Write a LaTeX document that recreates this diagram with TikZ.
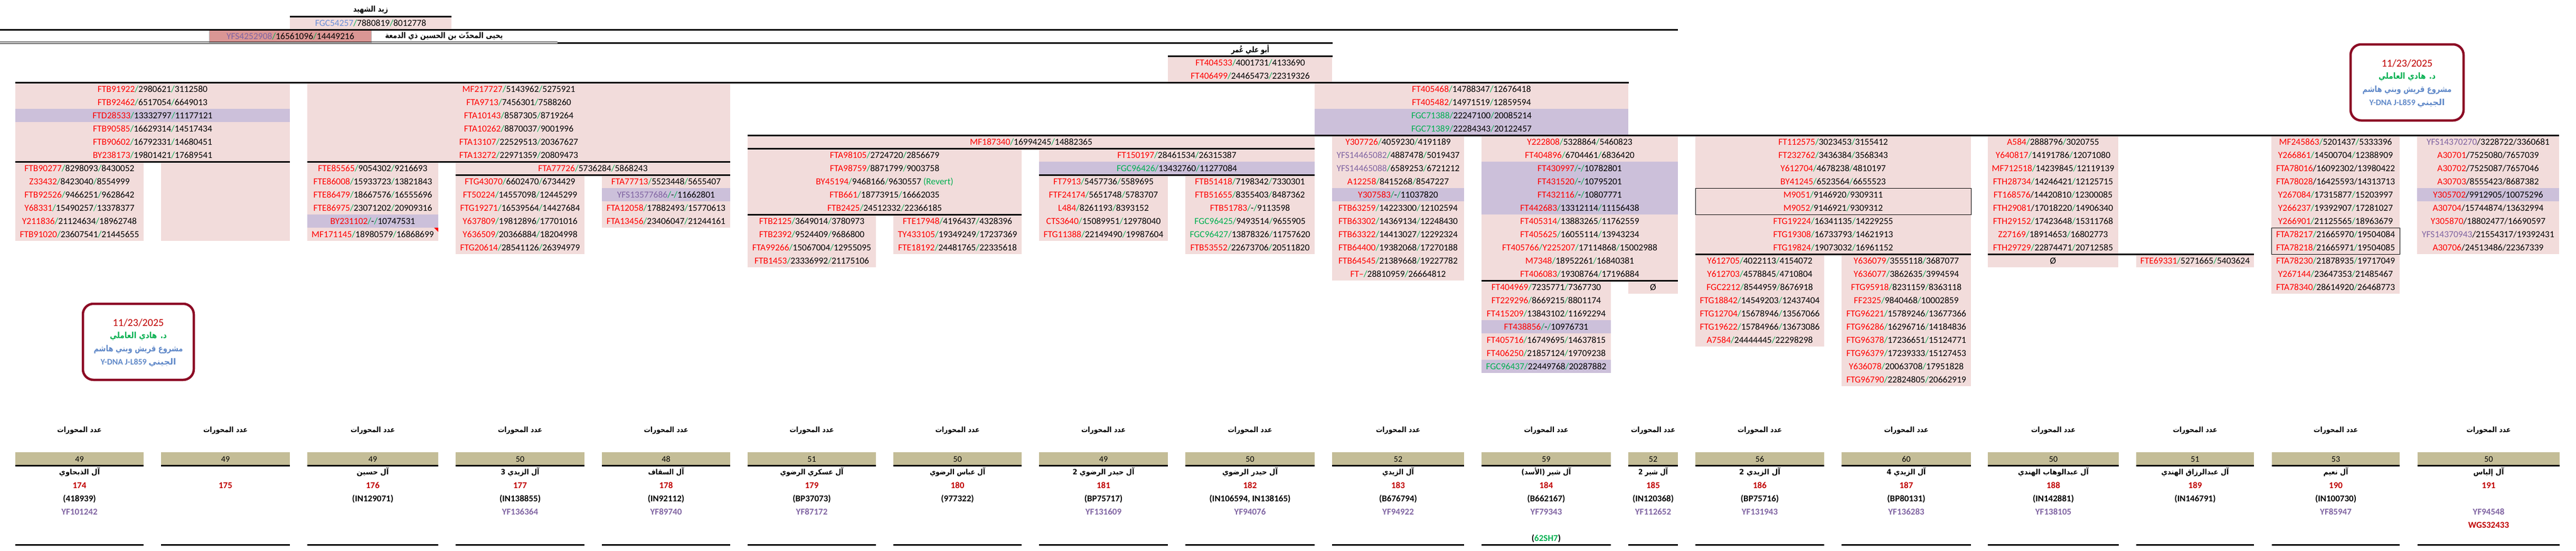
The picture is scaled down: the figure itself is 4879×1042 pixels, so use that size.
\documentclass[tikz,border=0pt]{standalone}
\usepackage{fontspec}
\usepackage{graphicx}
\setmainfont{Carlito}
\newfontfamily\arabicfont[Script=Arabic]{DejaVu Sans}
\TeXXeTstate=1
\definecolor{pinkc}{HTML}{F2DCDB}
\definecolor{purc}{HTML}{CCC0DA}
\definecolor{dpink}{HTML}{DA9694}
\definecolor{grayc}{HTML}{C4BD97}
\definecolor{rd}{HTML}{FF0000}
\definecolor{gn}{HTML}{00B050}
\definecolor{pu}{HTML}{8064A2}
\definecolor{bl}{HTML}{6A8ED8}
\definecolor{dred}{HTML}{C00000}
\definecolor{boxred}{HTML}{8C0A24}
\definecolor{dblue}{HTML}{5F88C8}
\newcommand\gs{\textcolor{gn}{/}}
\newcommand\Rr[3]{\textcolor{rd}{#1}\gs#2\gs#3}
\newcommand\Pp[3]{\textcolor{pu}{#1}\gs#2\gs#3}
\newcommand\Gg[3]{\textcolor{gn}{#1}\gs#2\gs#3}
\newcommand\Tx[3]{\node[rt] at (#1,{24+25*(#2)}) {#3};}
\newcommand\Bx[5][pinkc]{\fill[#1] (#2,{6+25*(#4)}) rectangle (#3,{6+25*(#5)});}
\newcommand\Hl[3]{\draw[thk] (#1,#3) -- (#2,#3);}
\newcommand\AN[2]{\resizebox{#1pt}{\height}{\arabicfont\bfseries #2}}
\newcommand\Lbl{\AN{84}{\beginR عدد المحورات\endR}}
\newcommand\Col[7]{%
  \fill[grayc] (#1,856) rectangle (#2,881);
  \draw[thk] (#1,881) -- (#2,881);
  \draw[thk] (#1,1031) -- (#2,1031);
  \node[bnm] at ({(#1+#2)/2},815) {\Lbl};
  \node[gnum] at ({(#1+#2)/2},874.5) {#3};
  \node[bnm] at ({(#1+#2)/2},893.5) {#4};
  \node[bnum,text=dred] at ({(#1+#2)/2},924.5) {#5};
  \node[bnum] at ({(#1+#2)/2},949.5) {#6};
  \node[bnum,text=pu] at ({(#1+#2)/2},974.5) {#7};
}
\newcommand\DBox[4]{%
  \draw[boxred,fill=white,line width=4.5pt,rounded corners=20pt] (#1,#2) rectangle ({#1+#3},{#2+#4});
  \node[inner sep=0,font=\fontsize{20}{24}\selectfont,text=dred] at ({#1+#3/2},{#2+36}) {11/23/2025};
  \node[inner sep=0,font=\fontsize{16}{20}\selectfont,text=gn] at ({#1+#3/2},{#2+61}) {\resizebox{108pt}{\height}{\arabicfont\bfseries\beginR د. هادي العاملي\endR}};
  \node[inner sep=0,font=\fontsize{16}{20}\selectfont,text=dblue] at ({#1+#3/2},{#2+86}) {\resizebox{169pt}{\height}{\arabicfont\bfseries\beginR مشروع قريش وبني هاشم\endR}};
  \node[inner sep=0,font=\fontsize{16}{20}\selectfont,text=dblue] at ({#1+#3/2},{#2+111}) {\resizebox{143pt}{\height}{\bfseries Y-DNA J-L859 {\arabicfont\beginR الجيني\endR}}};
}
\tikzset{
  thk/.style={line width=3pt},
  rt/.style={anchor=base,inner sep=0,font=\fontsize{17.5}{20}\selectfont},
  gnum/.style={anchor=base,inner sep=0,font=\fontsize{16}{20}\selectfont},
  bnum/.style={anchor=base,inner sep=0,font=\fontsize{17}{20}\selectfont\bfseries},
  bnm/.style={anchor=center,inner sep=0,font=\fontsize{14}{16}\selectfont},
  al/.style={anchor=center,inner sep=0,font=\fontsize{15}{18}\selectfont\arabicfont\bfseries}
}
\begin{document}
\begin{tikzpicture}[x=1pt,y=-1pt]
\useasboundingbox (0,0) rectangle (4879,1042);
% ---------- top header ----------
\node[al] (zaid) at (702,19) {\resizebox{66pt}{\height}{\beginR زيد الشهيد\endR}};
\Bx{549}{855}{1}{2}
\Tx{702}{1}{\textcolor{bl}{FGC54257}\gs7880819\gs8012778}
\fill[dpink] (396,57) rectangle (703,80);
\draw[gray!60,line width=1pt] (396,57) rectangle (703,80);
\Tx{550}{2}{\Pp{YFS4252908}{16561096}{14449216}}
\node[al] (yahya) at (841,68.5) {\resizebox{223pt}{\height}{\beginR يحيى المحدّث بن الحسين ذي الدمعة\endR}};
\draw[line width=1pt] (0,79.5) -- (1056,79.5);
\draw[line width=1pt] (0,82.5) -- (1056,82.5);
\node[al] (omar) at (2368,93.5) {\resizebox{72pt}{\height}{\beginR أبو علي عُمر\endR}};
\Bx{2212}{2523}{4}{6}
\Tx{2368}{4}{\Rr{FT404533}{4001731}{4133690}}
\Tx{2368}{5}{\Rr{FT406499}{24465473}{22319326}}
% ---------- fills ----------
\Bx{29}{549}{6}{12}\Bx[purc]{29}{549}{8}{9}
\Bx{29}{272}{12}{18}
\Bx{305}{549}{12}{18}
\Bx{582}{1383}{6}{12}
\Bx{582}{830}{12}{18}\Bx[purc]{582}{830}{16}{17}
\Bx{863}{1383}{12}{13}
\Bx{863}{1107}{13}{19}
\Bx{1140}{1383}{13}{17}\Bx[purc]{1140}{1383}{14}{15}
\Bx{1416}{2490}{10}{11}
\Bx{1416}{1935}{11}{16}
\Bx{1416}{1659}{16}{20}
\Bx{1692}{1935}{16}{19}
\Bx{1968}{2490}{11}{12}\Bx[purc]{1968}{2490}{12}{13}
\Bx{1968}{2212}{13}{18}
\Bx{2245}{2490}{13}{19}
\Bx{2490}{3084}{6}{10}\Bx[purc]{2490}{3084}{8}{10}
\Bx{2523}{2773}{10}{21}\Bx[purc]{2523}{2773}{14}{15}
\Bx{2806}{3178}{10}{21}\Bx[purc]{2806}{3178}{12}{16}
\Bx{2806}{3051}{21}{28}\Bx[purc]{2806}{3051}{24}{25}\Bx[purc]{2806}{3051}{27}{28}
\Bx{3084}{3178}{21}{22}
\Bx{3211}{3733}{10}{19}
\Bx{3211}{3455}{19}{26}
\Bx{3488}{3733}{19}{29}
\Bx{3765}{4012}{10}{19}
\Bx{3765}{4012}{19}{20}
\Bx{4046}{4269}{19}{20}
\Bx{4302}{4545}{10}{22}
\Bx{4578}{4847}{10}{19}\Bx[purc]{4578}{4847}{14}{15}
% ---------- lines ----------
\Hl{549}{855}{31}
\Hl{0}{3178}{56}
\Hl{1056}{2524}{81}
\Hl{2212}{2524}{106}
\Hl{29}{3085}{156}
\Hl{1416}{4847}{256}
\Hl{1416}{2490}{281}
\Hl{29}{549}{306}\Hl{582}{1383}{306}
\Hl{863}{1383}{331}\Hl{1968}{2490}{331}
\Hl{1416}{1935}{406}
\Hl{3211}{3733}{481}\Hl{3765}{4269}{481}
\Hl{2806}{3178}{531}
\draw[line width=1pt] (3211,356) rectangle (3733,406);
\draw[line width=1pt] (4302,431) rectangle (4545,481);
\fill[rd] (822,431) -- (830,431) -- (830,439) -- cycle;
% ---------- texts ----------
\Tx{289}{6}{\Rr{FTB91922}{2980621}{3112580}}
\Tx{289}{7}{\Rr{FTB92462}{6517054}{6649013}}
\Tx{289}{8}{\Rr{FTD28533}{13332797}{11177121}}
\Tx{289}{9}{\Rr{FTB90585}{16629314}{14517434}}
\Tx{289}{10}{\Rr{FTB90602}{16792331}{14680451}}
\Tx{289}{11}{\Rr{BY238173}{19801421}{17689541}}
\Tx{150.5}{12}{\Rr{FTB90277}{8298093}{8430052}}
\Tx{150.5}{13}{\Rr{Z33432}{8423040}{8554999}}
\Tx{150.5}{14}{\Rr{FTB92526}{9466251}{9628642}}
\Tx{150.5}{15}{\Rr{Y68331}{15490257}{13378377}}
\Tx{150.5}{16}{\Rr{Y211836}{21124634}{18962748}}
\Tx{150.5}{17}{\Rr{FTB91020}{23607541}{21445655}}
\Tx{982.5}{6}{\Rr{MF217727}{5143962}{5275921}}
\Tx{982.5}{7}{\Rr{FTA9713}{7456301}{7588260}}
\Tx{982.5}{8}{\Rr{FTA10143}{8587305}{8719264}}
\Tx{982.5}{9}{\Rr{FTA10262}{8870037}{9001996}}
\Tx{982.5}{10}{\Rr{FTA13107}{22529513}{20367627}}
\Tx{982.5}{11}{\Rr{FTA13272}{22971359}{20809473}}
\Tx{706}{12}{\Rr{FTE85565}{9054302}{9216693}}
\Tx{706}{13}{\Rr{FTE86008}{15933723}{13821843}}
\Tx{706}{14}{\Rr{FTE86479}{18667576}{16555696}}
\Tx{706}{15}{\Rr{FTE86975}{23071202}{20909316}}
\Tx{706}{16}{\Rr{BY231102}{-}{10747531}}
\Tx{706}{17}{\Rr{MF171145}{18980579}{16868699}}
\Tx{1123}{12}{\Rr{FTA77726}{5736284}{5868243}}
\Tx{985}{13}{\Rr{FTG43070}{6602470}{6734429}}
\Tx{985}{14}{\Rr{FT50224}{14557098}{12445299}}
\Tx{985}{15}{\Rr{FTG19271}{16539564}{14427684}}
\Tx{985}{16}{\Rr{Y637809}{19812896}{17701016}}
\Tx{985}{17}{\Rr{Y636509}{20366884}{18204998}}
\Tx{985}{18}{\Rr{FTG20614}{28541126}{26394979}}
\Tx{1261.5}{13}{\Rr{FTA77713}{5523448}{5655407}}
\Tx{1261.5}{14}{\Pp{YFS13577686}{-}{11662801}}
\Tx{1261.5}{15}{\Rr{FTA12058}{17882493}{15770613}}
\Tx{1261.5}{16}{\Rr{FTA13456}{23406047}{21244161}}
\Tx{1953}{10}{\Rr{MF187340}{16994245}{14882365}}
\Tx{1675.5}{11}{\Rr{FTA98105}{2724720}{2856679}}
\Tx{1675.5}{12}{\Rr{FTA98759}{8871799}{9003758}}
\Tx{1675.5}{13}{\Rr{BY45194}{9468166}{9630557}\ \textcolor{gn}{(Revert)}}
\Tx{1675.5}{14}{\Rr{FTB661}{18773915}{16662035}}
\Tx{1675.5}{15}{\Rr{FTB2425}{24512332}{22366185}}
\Tx{1537.5}{16}{\Rr{FTB2125}{3649014}{3780973}}
\Tx{1537.5}{17}{\Rr{FTB2392}{9524409}{9686800}}
\Tx{1537.5}{18}{\Rr{FTA99266}{15067004}{12955095}}
\Tx{1537.5}{19}{\Rr{FTB1453}{23336992}{21175106}}
\Tx{1813.5}{16}{\Rr{FTE17948}{4196437}{4328396}}
\Tx{1813.5}{17}{\Rr{TY433105}{19349249}{17237369}}
\Tx{1813.5}{18}{\Rr{FTE18192}{24481765}{22335618}}
\Tx{2229}{11}{\Rr{FT150197}{28461534}{26315387}}
\Tx{2229}{12}{\Gg{FGC96426}{13432760}{11277084}}
\Tx{2090}{13}{\Rr{FT7913}{5457736}{5589695}}
\Tx{2090}{14}{\Rr{FTF24174}{5651748}{5783707}}
\Tx{2090}{15}{\Rr{L484}{8261193}{8393152}}
\Tx{2090}{16}{\Rr{CTS3640}{15089951}{12978040}}
\Tx{2090}{17}{\Rr{FTG11388}{22149490}{19987604}}
\Tx{2367.5}{13}{\Rr{FTB51418}{7198342}{7330301}}
\Tx{2367.5}{14}{\Rr{FTB51655}{8355403}{8487362}}
\Tx{2367.5}{15}{\Rr{FTB51783}{-}{9113598}}
\Tx{2367.5}{16}{\Gg{FGC96425}{9493514}{9655905}}
\Tx{2367.5}{17}{\Gg{FGC96427}{13878326}{11757620}}
\Tx{2367.5}{18}{\Rr{FTB53552}{22673706}{20511820}}
\Tx{2787}{6}{\Rr{FT405468}{14788347}{12676418}}
\Tx{2787}{7}{\Rr{FT405482}{14971519}{12859594}}
\Tx{2787}{8}{\Gg{FGC71388}{22247100}{20085214}}
\Tx{2787}{9}{\Gg{FGC71389}{22284343}{20122457}}
\Tx{2648}{10}{\Rr{Y307726}{4059230}{4191189}}
\Tx{2648}{11}{\Pp{YFS14465082}{4887478}{5019437}}
\Tx{2648}{12}{\Pp{YFS14465088}{6589253}{6721212}}
\Tx{2648}{13}{\Rr{A12258}{8415268}{8547227}}
\Tx{2648}{14}{\Rr{Y307583}{-}{11037820}}
\Tx{2648}{15}{\Rr{FTB63259}{14223300}{12102594}}
\Tx{2648}{16}{\Rr{FTB63302}{14369134}{12248430}}
\Tx{2648}{17}{\Rr{FTB63322}{14413027}{12292324}}
\Tx{2648}{18}{\Rr{FTB64400}{19382068}{17270188}}
\Tx{2648}{19}{\Rr{FTB64545}{21389668}{19227782}}
\Tx{2648}{20}{\Rr{FT--}{28810959}{26664812}}
\Tx{2992}{10}{\Rr{Y222808}{5328864}{5460823}}
\Tx{2992}{11}{\Rr{FT404896}{6704461}{6836420}}
\Tx{2992}{12}{\Rr{FT430997}{-}{10782801}}
\Tx{2992}{13}{\Rr{FT431520}{-}{10795201}}
\Tx{2992}{14}{\Rr{FT432116}{-}{10807771}}
\Tx{2992}{15}{\Rr{FT442683}{13312114}{11156438}}
\Tx{2992}{16}{\Rr{FT405314}{13883265}{11762559}}
\Tx{2992}{17}{\Rr{FT405625}{16055114}{13943234}}
\Tx{2992}{18}{\textcolor{rd}{FT405766}\gs\Rr{Y225207}{17114868}{15002988}}
\Tx{2992}{19}{\Rr{M7348}{18952261}{16840381}}
\Tx{2992}{20}{\Rr{FT406083}{19308764}{17196884}}
\Tx{2928.5}{21}{\Rr{FT404969}{7235771}{7367730}}
\Tx{2928.5}{22}{\Rr{FT229296}{8669215}{8801174}}
\Tx{2928.5}{23}{\Rr{FT415209}{13843102}{11692294}}
\Tx{2928.5}{24}{\Rr{FT438856}{-}{10976731}}
\Tx{2928.5}{25}{\Rr{FT405716}{16749695}{14637815}}
\Tx{2928.5}{26}{\Rr{FT406250}{21857124}{19709238}}
\Tx{2928.5}{27}{\Gg{FGC96437}{22449768}{20287882}}
\Tx{3131}{21}{Ø}
\Tx{3472}{10}{\Rr{FT112575}{3023453}{3155412}}
\Tx{3472}{11}{\Rr{FT232762}{3436384}{3568343}}
\Tx{3472}{12}{\Rr{Y612704}{4678238}{4810197}}
\Tx{3472}{13}{\Rr{BY41245}{6523564}{6655523}}
\Tx{3472}{14}{\Rr{M9051}{9146920}{9309311}}
\Tx{3472}{15}{\Rr{M9052}{9146921}{9309312}}
\Tx{3472}{16}{\Rr{FTG19224}{16341135}{14229255}}
\Tx{3472}{17}{\Rr{FTG19308}{16733793}{14621913}}
\Tx{3472}{18}{\Rr{FTG19824}{19073032}{16961152}}
\Tx{3333}{19}{\Rr{Y612705}{4022113}{4154072}}
\Tx{3333}{20}{\Rr{Y612703}{4578845}{4710804}}
\Tx{3333}{21}{\Rr{FGC2212}{8544959}{8676918}}
\Tx{3333}{22}{\Rr{FTG18842}{14549203}{12437404}}
\Tx{3333}{23}{\Rr{FTG12704}{15678946}{13567066}}
\Tx{3333}{24}{\Rr{FTG19622}{15784966}{13673086}}
\Tx{3333}{25}{\Rr{A7584}{24444445}{22298298}}
\Tx{3610.5}{19}{\Rr{Y636079}{3555118}{3687077}}
\Tx{3610.5}{20}{\Rr{Y636077}{3862635}{3994594}}
\Tx{3610.5}{21}{\Rr{FTG95918}{8231159}{8363118}}
\Tx{3610.5}{22}{\Rr{FF2325}{9840468}{10002859}}
\Tx{3610.5}{23}{\Rr{FTG96221}{15789246}{13677366}}
\Tx{3610.5}{24}{\Rr{FTG96286}{16296716}{14184836}}
\Tx{3610.5}{25}{\Rr{FTG96378}{17236651}{15124771}}
\Tx{3610.5}{26}{\Rr{FTG96379}{17239333}{15127453}}
\Tx{3610.5}{27}{\Rr{Y636078}{20063708}{17951828}}
\Tx{3610.5}{28}{\Rr{FTG96790}{22824805}{20662919}}
\Tx{3888.5}{10}{\Rr{A584}{2888796}{3020755}}
\Tx{3888.5}{11}{\Rr{Y640817}{14191786}{12071080}}
\Tx{3888.5}{12}{\Rr{MF712518}{14239845}{12119139}}
\Tx{3888.5}{13}{\Rr{FTH28734}{14246421}{12125715}}
\Tx{3888.5}{14}{\textcolor{rd}{FT168576}/14420810\gs12300085}
\Tx{3888.5}{15}{\textcolor{rd}{FTH29081}/17018220\gs14906340}
\Tx{3888.5}{16}{\Rr{FTH29152}{17423648}{15311768}}
\Tx{3888.5}{17}{\Rr{Z27169}{18914653}{16802773}}
\Tx{3888.5}{18}{\Rr{FTH29729}{22874471}{20712585}}
\Tx{3888.5}{19}{Ø}
\Tx{4157.5}{19}{\Rr{FTE69331}{5271665}{5403624}}
\Tx{4423.5}{10}{\Rr{MF245863}{5201437}{5333396}}
\Tx{4423.5}{11}{\Rr{Y266861}{14500704}{12388909}}
\Tx{4423.5}{12}{\textcolor{rd}{FTA78016}/16092302/13980422}
\Tx{4423.5}{13}{\textcolor{rd}{FTA78028}/16425593/14313713}
\Tx{4423.5}{14}{\Rr{Y267084}{17315877}{15203997}}
\Tx{4423.5}{15}{\Rr{Y266237}{19392907}{17281027}}
\Tx{4423.5}{16}{\Rr{Y266901}{21125565}{18963679}}
\Tx{4423.5}{17}{\Rr{FTA78217}{21665970}{19504084}}
\Tx{4423.5}{18}{\Rr{FTA78218}{21665971}{19504085}}
\Tx{4423.5}{19}{\Rr{FTA78230}{21878935}{19717049}}
\Tx{4423.5}{20}{\Rr{Y267144}{23647353}{21485467}}
\Tx{4423.5}{21}{\Rr{FTA78340}{28614920}{26468773}}
\Tx{4712.5}{10}{\textcolor{pu}{YFS14370270}/3228722/3360681}
\Tx{4712.5}{11}{\textcolor{rd}{A30701}/7525080/7657039}
\Tx{4712.5}{12}{\textcolor{rd}{A30702}/7525087/7657046}
\Tx{4712.5}{13}{\textcolor{rd}{A30703}/8555423/8687382}
\Tx{4712.5}{14}{\textcolor{rd}{Y305702}/9912905/10075296}
\Tx{4712.5}{15}{\textcolor{rd}{A30704}/15744874/13632994}
\Tx{4712.5}{16}{\textcolor{rd}{Y305870}/18802477/16690597}
\Tx{4712.5}{17}{\textcolor{pu}{YFS14370943}/21554317/19392431}
\Tx{4712.5}{18}{\textcolor{rd}{A30706}/24513486/22367339}
% ---------- date boxes ----------
\DBox{4452}{84}{214}{144}
\DBox{157}{575}{210}{144}
% ---------- bottom columns ----------
\Col{29}{272}{49}{\AN{77}{\beginR آل الذبحاوي\endR}}{174}{(418939)}{YF101242}
\Col{305}{549}{49}{}{175}{}{}
\Col{582}{830}{49}{\AN{61}{\beginR آل حسين\endR}}{176}{(IN129071)}{}
\Col{863}{1107}{50}{\AN{73}{\beginR آل الزيدي 3\endR}}{177}{(IN138855)}{YF136364}
\Col{1140}{1383}{48}{\AN{68}{\beginR آل السقاف\endR}}{178}{(IN92112)}{YF89740}
\Col{1416}{1659}{51}{\AN{120}{\beginR آل عسكري الرضوي\endR}}{179}{(BP37073)}{YF87172}
\Col{1692}{1935}{50}{\AN{105}{\beginR آل عباس الرضوي\endR}}{180}{(977322)}{}
\Col{1968}{2212}{49}{\AN{117}{\beginR آل حيدر الرضوي 2\endR}}{181}{(BP75717)}{YF131609}
\Col{2245}{2490}{50}{\AN{105}{\beginR آل حيدر الرضوي\endR}}{182}{(IN106594, IN138165)}{YF94076}
\Col{2523}{2773}{52}{\AN{60}{\beginR آل الزيدي\endR}}{183}{(B676794)}{YF94922}
\Col{2806}{3051}{59}{\AN{94}{\beginR آل شير (الأسد)\endR}}{184}{(B662167)}{YF79343}
\Col{3084}{3178}{52}{\AN{56}{\beginR آل شير 2\endR}}{185}{(IN120368)}{YF112652}
\Col{3211}{3455}{56}{\AN{78}{\beginR آل الزيدي 2\endR}}{186}{(BP75716)}{YF131943}
\Col{3488}{3733}{60}{\AN{74}{\beginR آل الزيدي 4\endR}}{187}{(BP80131)}{YF136283}
\Col{3765}{4013}{50}{\AN{134}{\beginR آل عبدالوهاب الهندي\endR}}{188}{(IN142881)}{YF138105}
\Col{4046}{4269}{51}{\AN{128}{\beginR آل عبدالرزاق الهندي\endR}}{189}{(IN146791)}{}
\Col{4303}{4545}{53}{\AN{47}{\beginR آل نعيم\endR}}{190}{(IN100730)}{YF85947}
\Col{4579}{4848}{50}{\AN{58}{\beginR آل إلياس\endR}}{191}{}{YF94548}
\node[bnum] (sh) at (2928.5,1024.5) {(\textcolor{gn}{62SH7})};
\node[bnum,text=dred] (wgs) at (4713.5,999.5) {WGS32433};
\end{tikzpicture}
\end{document}
